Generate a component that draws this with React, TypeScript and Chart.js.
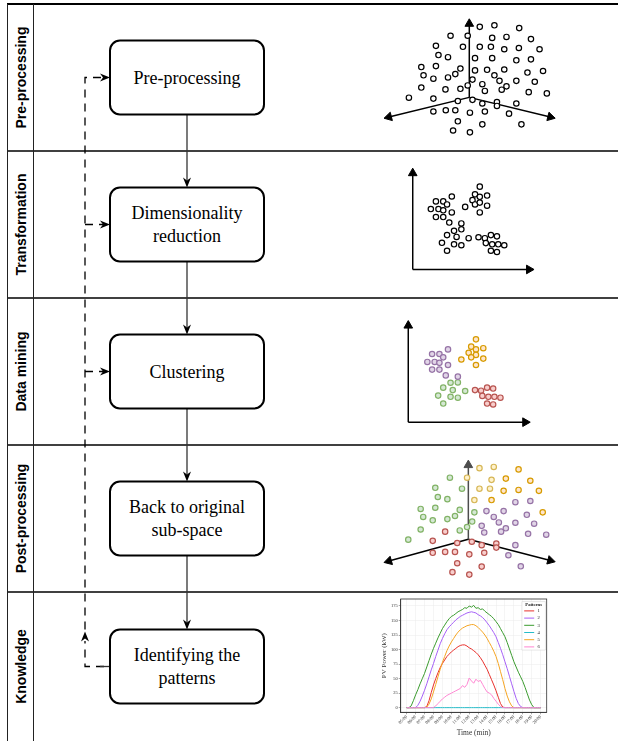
import React, { useEffect, useRef } from 'react';
import { Chart, registerables } from 'chart.js';

Chart.register(...registerables);

type Pt = [number, number];

// ---------------- Diagram text ----------------
const stageLabels = ['Pre-processing', 'Transformation', 'Data mining', 'Post-processing', 'Knowledge'];
const boxLines = [
  ['Pre-processing'],
  ['Dimensionality', 'reduction'],
  ['Clustering'],
  ['Back to original', 'sub-space'],
  ['Identifying the', 'patterns'],
];

// ---------------- Panel 1: raw 3-D cloud ----------------
const p1Axes: Pt[][] = [
  [[325, 298], [325, 58]],
  [[325, 298], [72, 362]],
  [[325, 298], [580, 362]],
];
const p1Points: Pt[] = [
  [358, 68], [404, 63], [482, 72], [266, 97], [320, 97], [397, 104], [442, 101], [519, 108],
  [220, 130], [305, 133], [358, 133], [393, 133], [435, 141], [481, 137], [546, 141],
  [228, 160], [258, 167], [343, 170], [397, 170], [473, 177], [519, 174],
  [174, 199], [220, 196], [297, 204], [343, 210], [381, 208], [435, 207], [508, 217], [557, 212],
  [181, 226], [212, 237], [258, 233], [281, 222], [335, 240], [404, 226], [420, 244], [473, 244], [531, 247],
  [174, 266], [250, 272], [297, 270], [320, 259], [366, 255], [374, 277], [427, 273], [442, 262], [512, 281], [569, 285],
  [135, 299], [212, 302], [289, 310], [335, 306], [366, 318], [412, 313], [412, 326], [473, 318],
  [212, 344], [251, 340], [281, 340], [327, 348], [374, 344], [450, 351],
  [289, 376], [366, 386], [489, 386], [274, 406], [327, 412],
];

// ---------------- Panel 2: reduced 2-D ----------------
const p2Axes: Pt[][] = [
  [[147, 370], [147, 56]],
  [[147, 370], [513, 370]],
];
const p2Points: Pt[] = [
  [358, 100], [270, 132], [220, 148], [243, 148], [255, 158], [343, 125], [358, 133], [381, 129],
  [335, 144], [343, 158], [358, 152], [381, 162], [312, 166], [204, 173], [228, 173], [243, 177],
  [270, 184], [358, 184], [220, 199], [243, 199], [262, 217], [300, 220], [300, 239], [277, 244],
  [255, 258], [285, 264], [323, 268], [354, 265], [374, 268], [393, 258], [412, 262],
  [239, 283], [277, 288], [300, 291], [377, 284], [397, 288], [416, 288], [435, 291],
  [255, 309], [393, 309], [412, 313],
];

// ---------------- Panel 3: clusters 2-D ----------------
const p3Axes: Pt[][] = [
  [[133, 380], [133, 64]],
  [[133, 380], [501, 380]],
];
const p3Purple: Pt[] = [
  [258, 142], [208, 157], [231, 157], [243, 168], [193, 183], [216, 183], [231, 186], [258, 193],
  [208, 208], [231, 208], [251, 227], [289, 231],
];
const p3Orange: Pt[] = [
  [346, 109], [331, 133], [346, 142], [369, 138], [323, 153], [346, 160], [331, 168], [369, 172], [300, 175], [346, 193],
];
const p3Green: Pt[] = [
  [266, 251], [289, 250], [243, 267], [273, 275], [312, 278], [227, 293], [266, 297], [289, 300], [243, 319],
];
const p3Red: Pt[] = [
  [343, 275], [362, 277], [381, 267], [400, 270], [366, 294], [385, 297], [404, 297], [423, 300], [381, 319], [400, 322],
];

// ---------------- Panel 4: clusters back in 3-D ----------------
const p4Axes: Pt[][] = [
  [[322, 288], [322, 46]],
  [[322, 288], [72, 359]],
  [[322, 288], [580, 357]],
];
const p4Yellow: Pt[] = [[357, 56], [402, 52], [318, 87], [395, 94], [357, 123], [390, 123], [341, 160]];
const p4Orange: Pt[] = [[480, 60], [440, 90], [517, 97], [433, 130], [480, 127], [544, 130], [395, 160], [556, 200]];
const p4Green: Pt[] = [
  [264, 87], [218, 120], [302, 123], [226, 150], [256, 157], [172, 189], [218, 185], [295, 192],
  [180, 215], [210, 226], [256, 222], [280, 212], [341, 200], [334, 230], [318, 248], [172, 256], [295, 259], [133, 289],
];
const p4Purple: Pt[] = [
  [379, 196], [433, 196], [402, 215], [470, 167], [517, 163], [418, 233], [506, 208], [470, 234], [529, 237],
  [364, 244], [440, 252], [372, 266], [425, 263], [510, 270], [567, 273], [470, 307], [448, 340], [487, 376],
];
const p4Red: Pt[] = [
  [249, 263], [210, 293], [287, 300], [333, 296], [364, 307], [410, 302], [410, 315], [210, 332],
  [249, 329], [280, 329], [325, 337], [372, 332], [287, 366], [364, 377], [272, 395], [325, 403],
];

// ---------------- Panel 5: PV power patterns ----------------
const hourLabels = ['05:00', '06:00', '07:00', '08:00', '09:00', '10:00', '11:00', '12:00', '13:00', '14:00', '15:00', '16:00', '17:00', '18:00', '19:00', '20:00'];
const yTicks = [0, 25, 50, 75, 100, 125, 150, 175];
const patternNames = ['1', '2', '3', '4', '5', '6'];
const legendTitle = 'Patterns';
// 15-minute samples from 05:00 to 20:00 (61 values)
const pattern1 = [
  0, 0, 0, 0, 0, 0, 0, 0, 0, 2, 12, 26,
  39, 50, 60, 69, 76, 82, 88, 92, 96, 99, 102, 105,
  107, 108, 108, 106, 103, 101, 98, 95, 91, 86, 80, 73,
  66, 57, 48, 39, 29, 18, 7, 1, 0, 0, 0, 0,
  0, 0, 0, 0, 0, 0, 0, 0, 0, 0, 0, 0, 0,
];
const pattern2 = [
  0, 0, 0, 0, 0, 4, 11, 20, 30, 41, 53, 65,
  76, 88, 99, 110, 119, 127, 134, 139, 143, 147, 151, 154,
  157, 159, 161, 163, 164, 165, 164, 163, 160, 158, 155, 151,
  146, 141, 135, 129, 122, 112, 102, 91, 79, 67, 54, 41,
  28, 16, 7, 2, 0, 0, 0, 0, 0, 0, 0, 0, 0,
];
const pattern3 = [
  0, 0, 3, 12, 22, 31, 41, 50, 59, 70, 81, 92,
  102, 111, 120, 128, 136, 142, 148, 153, 157, 159, 162, 165,
  167, 169, 172, 171, 175, 173, 176, 171, 172, 169, 170, 166,
  163, 160, 157, 153, 148, 143, 136, 129, 122, 112, 101, 90,
  79, 70, 61, 53, 45, 35, 24, 13, 5, 0, 0, 0, 0,
];
const pattern4 = [
  0, 0, 0, 0, 0, 0, 0, 0, 0, 0, 0, 0,
  0, 0, 0, 0, 0, 0, 0, 0, 0, 0, 0, 0,
  0, 0, 0, 0, 0, 0, 0, 0, 0, 0, 0, 0,
  0, 0, 0, 0, 0, 0, 0, 0, 0, 0, 0, 0,
  0, 0, 0, 0, 0, 0, 0, 0, 0, 0, 0, 0, 0,
];
const pattern5 = [
  0, 0, 0, 0, 0, 0, 0, 0, 0, 1, 6, 15,
  27, 40, 53, 66, 78, 88, 98, 106, 113, 119, 125, 130,
  134, 137, 139, 141, 142, 143, 143, 141, 138, 134, 130, 125,
  119, 112, 105, 97, 88, 76, 62, 48, 33, 20, 10, 3,
  0, 0, 0, 0, 0, 0, 0, 0, 0, 0, 0, 0, 0,
];
const pattern6 = [
  0, 0, 0, 0, 0, 0, 0, 0, 0, 0, 0, 0,
  0, 3, 7, 11, 15, 18, 21, 23, 25, 27, 29, 31,
  33, 38, 35, 40, 51, 46, 42, 49, 45, 47, 40, 33,
  27, 25, 22, 16, 11, 6, 2, 0, 0, 0, 0, 0,
  0, 0, 0, 0, 0, 0, 0, 0, 0, 0, 0, 0, 0,
];
const patternColors = ['#e8302c', '#a660f7', '#3a9b2e', '#26bcc9', '#f5a523', '#ff86d2'];

// ---------------- helpers ----------------
const toXY = (pts: Pt[]) => pts.map(([x, y]) => ({ x, y }));

function axisDataset(seg: Pt[], color: string) {
  const [a, b] = seg;
  const rot = (Math.atan2(b[0] - a[0], -(b[1] - a[1])) * 180) / Math.PI;
  return {
    data: toXY(seg),
    showLine: true,
    borderColor: color,
    borderWidth: 1.5,
    pointRadius: [0, 5],
    pointStyle: 'triangle',
    pointRotation: [0, rot],
    pointBackgroundColor: color,
    pointBorderColor: color,
    pointBorderWidth: 1,
    clip: false,
    order: 10,
  };
}

function pointDataset(pts: Pt[], stroke: string, fill: string) {
  return {
    data: toXY(pts),
    showLine: false,
    pointRadius: 2.7,
    pointBorderWidth: 1.2,
    pointBackgroundColor: fill,
    pointBorderColor: stroke,
    clip: false,
    order: 1,
  };
}

function scatterConfig(datasets: any[], maxX: number, maxY: number) {
  return {
    type: 'scatter',
    data: { datasets },
    options: {
      animation: false,
      responsive: false,
      events: [],
      layout: { padding: 0 },
      scales: {
        x: { type: 'linear', min: 0, max: maxX, display: false },
        y: { type: 'linear', min: 0, max: maxY, reverse: true, display: false },
      },
      plugins: { legend: { display: false }, tooltip: { enabled: false } },
    },
  };
}

const framePlugin = {
  id: 'plotFrame',
  afterDraw(chart: any) {
    const { ctx, chartArea } = chart;
    ctx.save();
    ctx.strokeStyle = '#333';
    ctx.lineWidth = 0.8;
    ctx.strokeRect(chartArea.left, chartArea.top, chartArea.right - chartArea.left, chartArea.bottom - chartArea.top);
    // legend box
    const w = 23.5;
    const h = 48.5;
    const x = chartArea.right - w - 1.3;
    const y = chartArea.top + 2.6;
    ctx.fillStyle = 'rgba(255,255,255,0.95)';
    ctx.strokeStyle = '#cfcfcf';
    ctx.lineWidth = 0.5;
    ctx.beginPath();
    ctx.rect(x, y, w, h);
    ctx.fill();
    ctx.stroke();
    ctx.fillStyle = '#111';
    ctx.textBaseline = 'middle';
    ctx.textAlign = 'center';
    ctx.font = 'bold 4.6px "Liberation Serif"';
    ctx.fillText(legendTitle, x + w / 2, y + 3.6);
    chart.data.datasets.forEach((ds: any, i: number) => {
      const yy = y + 9.3 + i * 7.2;
      ctx.strokeStyle = ds.borderColor;
      ctx.lineWidth = 1;
      ctx.beginPath();
      ctx.moveTo(x + 2.3, yy);
      ctx.lineTo(x + 12.3, yy);
      ctx.stroke();
      ctx.fillStyle = '#111';
      ctx.textAlign = 'left';
      ctx.font = '4.6px "Liberation Serif"';
      ctx.fillText(ds.label, x + 15.6, yy);
    });
    ctx.restore();
  },
};

function lineConfig() {
  const times = Array.from({ length: pattern1.length }, (_, i) => 5 + i * 0.25);
  const series = [pattern1, pattern2, pattern3, pattern4, pattern5, pattern6];
  const drawOrder = [5, 4, 3, 1, 2, 0];
  const tickFont = { family: '"Liberation Serif"', size: 4.5 };
  return {
    type: 'line',
    data: {
      labels: times,
      datasets: series.map((s, i) => ({
        label: patternNames[i],
        data: s,
        borderColor: patternColors[i],
        backgroundColor: patternColors[i],
        borderWidth: 1,
        pointRadius: 0,
        tension: 0,
        fill: false,
        order: drawOrder[i],
      })),
    },
    options: {
      animation: false,
      responsive: false,
      events: [],
      layout: { padding: { top: 4, right: 9.3, left: 0, bottom: 0 } },
      scales: {
        x: {
          type: 'linear',
          min: 4.33,
          max: 20.67,
          afterBuildTicks: (scale: any) => {
            scale.ticks = hourLabels.map((_, i) => ({ value: 5 + i }));
          },
          ticks: {
            autoSkip: false,
            maxRotation: 45,
            minRotation: 45,
            padding: 0,
            font: tickFont,
            color: '#333',
            callback: (v: number) => hourLabels[Math.round(v) - 5] ?? '',
          },
          grid: { color: '#ebebeb', lineWidth: 0.5, tickLength: 2, tickColor: '#555' },
          border: { color: '#333', width: 0.8 },
          title: {
            display: true,
            text: 'Time (min)',
            color: '#333',
            font: { family: '"Liberation Serif"', size: 7.5 },
            padding: { top: 0, bottom: 3 },
          },
          afterFit: (scale: any) => {
            scale.height = 28.7;
          },
        },
        y: {
          type: 'linear',
          min: -8,
          max: 187,
          afterBuildTicks: (scale: any) => {
            scale.ticks = yTicks.map((v) => ({ value: v }));
          },
          ticks: { padding: 1, font: tickFont, color: '#333' },
          grid: { color: '#ebebeb', lineWidth: 0.5, tickLength: 2, tickColor: '#555' },
          border: { color: '#333', width: 0.8 },
          title: {
            display: true,
            text: 'PV Power (kW)',
            color: '#333',
            font: { family: '"Liberation Serif"', size: 7 },
            padding: { top: 4, bottom: 0 },
          },
          afterFit: (scale: any) => {
            scale.width = 24.7;
          },
        },
      },
      plugins: { legend: { display: false }, tooltip: { enabled: false } },
    },
    plugins: [framePlugin],
  };
}

// ---------------- components ----------------
function ChartCanvas({ left, top, width, height, make }: { left: number; top: number; width: number; height: number; make: () => any }) {
  const ref = useRef<HTMLCanvasElement>(null);
  useEffect(() => {
    const chart = new Chart(ref.current as HTMLCanvasElement, make());
    return () => chart.destroy();
  }, []);
  return (
    <canvas
      ref={ref}
      width={width}
      height={height}
      style={{ position: 'absolute', left, top, width, height }}
    />
  );
}

const ROW_TOPS = [4, 151, 298, 445, 592];
const PAGE_H = 741;
const PAGE_W = 618;

function Diagram() {
  const centers = ROW_TOPS.map((t, i) => (t + (i < 4 ? ROW_TOPS[i + 1] : PAGE_H)) / 2);
  const boxX = 110;
  const boxW = 154;
  const boxH = 74;
  const cx = 187;
  const dashX = 85;
  const arrowDown = (x: number, tip: number) => `M${x},${tip} L${x - 4},${tip - 10} L${x},${tip - 7} L${x + 4},${tip - 10} Z`;
  const arrowRight = (tip: number, y: number) => `M${tip},${y} L${tip - 10},${y - 4} L${tip - 7},${y} L${tip - 10},${y + 4} Z`;
  const arrowUp = (x: number, tip: number) => `M${x},${tip} L${x - 4},${tip + 10} L${x},${tip + 7} L${x + 4},${tip + 10} Z`;
  return (
    <svg width={PAGE_W} height={PAGE_H} style={{ position: 'absolute', left: 0, top: 0 }}>
      <rect x={0} y={0} width={PAGE_W} height={PAGE_H} fill="#fff" />
      {/* frame */}
      <line x1={7} y1={4} x2={PAGE_W} y2={4} stroke="#000" strokeWidth={1.8} />
      {ROW_TOPS.slice(1).map((y, i) => (
        <line key={i} x1={7} y1={y} x2={PAGE_W} y2={y} stroke="#000" strokeWidth={1.6} />
      ))}
      <line x1={7.5} y1={4} x2={7.5} y2={PAGE_H} stroke="#222" strokeWidth={1} />
      <line x1={33.5} y1={4} x2={33.5} y2={PAGE_H} stroke="#222" strokeWidth={1} />
      {stageLabels.map((s, i) => (
        <text
          key={s}
          transform={`translate(21,${centers[i]}) rotate(-90)`}
          textAnchor="middle"
          dominantBaseline="central"
          fontFamily='"Liberation Sans", Arial, sans-serif'
          fontWeight="bold"
          fontSize={14}
          fill="#000"
        >
          {s}
        </text>
      ))}
      {/* dashed feedback */}
      <path
        d={`M${boxX - 6},${centers[4]} H${dashX} V${centers[0]} H${boxX - 6}`}
        fill="none"
        stroke="#000"
        strokeWidth={1.3}
        strokeDasharray="8 6"
      />
      <line x1={boxX - 10} y1={centers[4]} x2={boxX} y2={centers[4]} stroke="#333" strokeWidth={1.3} />
      {[1, 2].map((i) => (
        <line key={i} x1={dashX} y1={centers[i]} x2={boxX - 6} y2={centers[i]} stroke="#000" strokeWidth={1.3} strokeDasharray="8 6" />
      ))}
      {[0, 1, 2].map((i) => (
        <path key={i} d={arrowRight(boxX, centers[i])} fill="#000" />
      ))}
      <rect x={dashX - 3} y={631} width={6} height={10} fill="#fff" />
      <path d={arrowUp(dashX, 631.5)} fill="#000" />
      {/* vertical connectors */}
      {centers.slice(0, 4).map((c, i) => {
        const y1 = c + boxH / 2;
        const tip = centers[i + 1] - boxH / 2;
        return (
          <g key={i}>
            <line x1={cx} y1={y1} x2={cx} y2={tip - 7} stroke="#333" strokeWidth={1.3} />
            <path d={arrowDown(cx, tip)} fill="#000" />
          </g>
        );
      })}
      {/* boxes */}
      {centers.map((c, i) => (
        <g key={i}>
          <rect x={boxX} y={c - boxH / 2} width={boxW} height={boxH} rx={10} ry={10} fill="#fff" stroke="#000" strokeWidth={2} />
          {boxLines[i].map((t, j) => (
            <text
              key={j}
              x={boxX + boxW / 2}
              y={c + (j - (boxLines[i].length - 1) / 2) * 22.5}
              textAnchor="middle"
              dominantBaseline="central"
              fontFamily='"Liberation Serif", "Times New Roman", serif'
              fontSize={18}
              fill="#000"
            >
              {t}
            </text>
          ))}
        </g>
      ))}
    </svg>
  );
}

export default function App() {
  const black = '#000';
  const green: [string, string] = ['#82b366', '#d5e8d4'];
  const red: [string, string] = ['#b85450', '#f8cecc'];
  const purple: [string, string] = ['#9673a6', '#e1d5e7'];
  const orange: [string, string] = ['#d79b00', '#ffe6cc'];
  const yellow: [string, string] = ['#d6b656', '#fff2cc'];
  return (
    <div style={{ position: 'absolute', left: 0, top: 0, width: PAGE_W, height: PAGE_H, overflow: 'hidden', background: '#fff' }}>
      <Diagram />
      <ChartCanvas
        left={360}
        top={0}
        width={258}
        height={150}
        make={() => scatterConfig([...p1Axes.map((a) => axisDataset(a, black)), pointDataset(p1Points, black, '#fff')], 774, 450)}
      />
      <ChartCanvas
        left={360}
        top={150}
        width={258}
        height={150}
        make={() => scatterConfig([...p2Axes.map((a) => axisDataset(a, black)), pointDataset(p2Points, black, '#fff')], 774, 450)}
      />
      <ChartCanvas
        left={360}
        top={300}
        width={258}
        height={145}
        make={() =>
          scatterConfig(
            [
              ...p3Axes.map((a) => axisDataset(a, black)),
              pointDataset(p3Purple, ...purple),
              pointDataset(p3Orange, ...orange),
              pointDataset(p3Green, ...green),
              pointDataset(p3Red, ...red),
            ],
            774,
            435,
          )
        }
      />
      <ChartCanvas
        left={360}
        top={445}
        width={258}
        height={150}
        make={() =>
          scatterConfig(
            [
              ...p4Axes.map((a, i) => axisDataset(a, i === 0 ? '#4d4d4d' : black)),
              pointDataset(p4Yellow, ...yellow),
              pointDataset(p4Orange, ...orange),
              pointDataset(p4Green, ...green),
              pointDataset(p4Purple, ...purple),
              pointDataset(p4Red, ...red),
            ],
            774,
            450,
          )
        }
      />
      <ChartCanvas left={376} top={595} width={180} height={146} make={lineConfig} />
    </div>
  );
}
